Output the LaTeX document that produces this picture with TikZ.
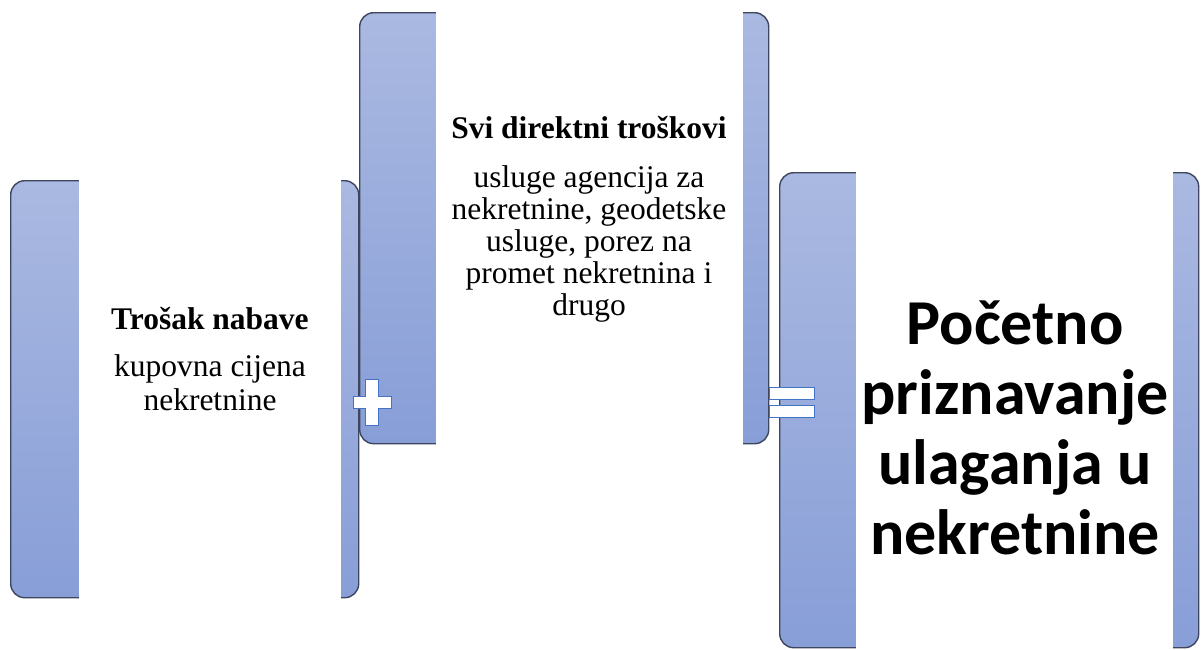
\documentclass[tikz,border=0pt]{standalone}
\usepackage{fontspec}
\setmainfont{Liberation Serif}
\newfontfamily\carlito{Carlito}
\usepackage{xcolor}
\definecolor{box-top}{RGB}{170,185,225}
\definecolor{box-bottom}{RGB}{136,158,215}
\definecolor{box-edge}{RGB}{62,70,95}
\definecolor{sign-edge}{RGB}{68,114,196}
\tikzset{
    bracket-box/.style = {draw=box-edge, line width=1.4pt, rectangle, rounded corners=14pt, top color=box-top, bottom color=box-bottom, inner sep=0pt, anchor=north west},
    white-cover/.style = {fill=white},
    sign/.style = {fill=white, draw=sign-edge, line width=1pt},
    box-title/.style = {font=\fontsize{31.5}{32}\selectfont\bfseries, anchor=base, inner sep=0pt},
    box-text/.style = {align=center, anchor=north, inner sep=0pt},
}

\begin{document}
\begin{tikzpicture}[x=1pt, y=-1pt]
\useasboundingbox (0,0) rectangle (1201,649);
% the three brackets
\node [bracket-box, minimum width=348pt, minimum height=417pt] (nabava) at (10,180) {};
\fill [white-cover] ([xshift=69pt, yshift=2pt]nabava.north west) rectangle ([xshift=-18pt, yshift=-2pt]nabava.south east);
\node [bracket-box, minimum width=409pt, minimum height=431pt] (troskovi) at (359,12) {};
\fill [white-cover] ([xshift=77pt, yshift=2pt]troskovi.north west) rectangle ([xshift=-26pt, yshift=-2pt]troskovi.south east);
\node [bracket-box, minimum width=419pt, minimum height=475pt] (priznavanje) at (779,172) {};
\fill [white-cover] ([xshift=77pt, yshift=2pt]priznavanje.north west) rectangle ([xshift=-26pt, yshift=-2pt]priznavanje.south east);

% texts
\node [box-title] (nabava-title) at (210,329) {Trošak nabave};
\node [box-text, font=\fontsize{31.5}{34}\selectfont] (nabava-text) at (210,354) {kupovna cijena\\nekretnine};
\node [box-title] (troskovi-title) at (589,138) {Svi direktni troškovi};
\node [box-text, font=\fontsize{31.5}{32}\selectfont] (troskovi-text) at (589,165) {usluge agencija za\\nekretnine, geodetske\\usluge, porez na\\promet nekretnina i\\drugo};
\node [box-text, font=\carlito\fontsize{64}{70}\selectfont\bfseries] (priznavanje-text) at (1015,301) {Početno\\priznavanje\\ulaganja u\\nekretnine};

% plus and equals
\draw [sign] (365,379) -- (378,379) -- (378,396) -- (391,396) -- (391,408) -- (378,408) -- (378,425) -- (365,425) -- (365,408) -- (353,408) -- (353,396) -- (365,396) -- cycle;
\draw [sign] (769,387) rectangle (814,399);
\draw [sign] (769,405) rectangle (814,417);
\end{tikzpicture}
\end{document}
